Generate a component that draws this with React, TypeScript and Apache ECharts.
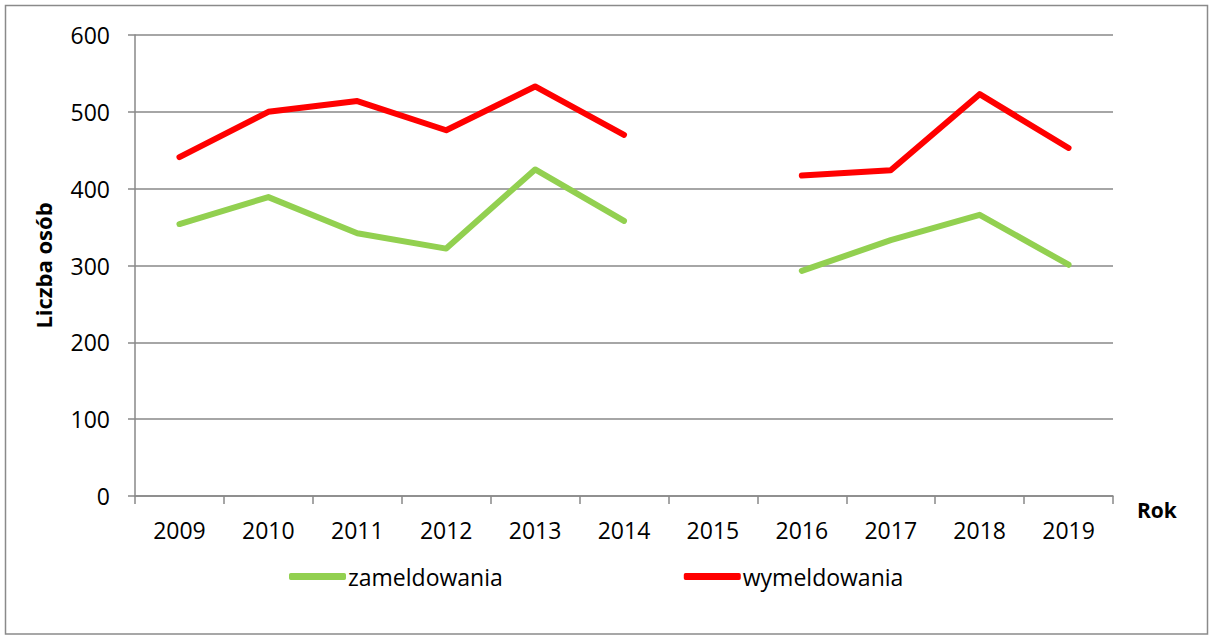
import React, { useEffect, useRef } from "react";
import * as echarts from "echarts";

const years = ["2009", "2010", "2011", "2012", "2013", "2014", "2015", "2016", "2017", "2018", "2019"];
const zameldowania: (number | null)[] = [354, 389, 342, 322, 425, 358, null, 293, 333, 366, 301];
const wymeldowania: (number | null)[] = [441, 500, 514, 476, 533, 470, null, 417, 424, 523, 453];
const yTicks = [0, 100, 200, 300, 400, 500, 600];

const FONT = "'Open Sans', Lato, sans-serif";
const GRAY = "#888888";

export default function App() {
  const ref = useRef<HTMLDivElement>(null);
  useEffect(() => {
    const chart = echarts.init(ref.current!, null, { renderer: "svg" });
    chart.setOption({
      animation: false,
      backgroundColor: "#ffffff",
      textStyle: { fontFamily: FONT },
      grid: { left: 135, right: 100, top: 35, bottom: 139 },
      graphic: [
        {
          type: "rect",
          shape: { x: 5.5, y: 5.5, width: 1202, height: 628.5 },
          style: { fill: "none", stroke: "#8a8a8a", lineWidth: 1.5 },
          silent: true,
        },
      ],
      legend: {
        left: 284,
        top: 560,
        itemWidth: 57,
        itemHeight: 7,
        itemGap: 181,
        icon: "roundRect",
        textStyle: { fontFamily: FONT, fontSize: 23, color: "#000", padding: [0, 0, 0, -3] },
        data: [
          { name: "zameldowania", itemStyle: { color: "#92D050" } },
          { name: "wymeldowania", itemStyle: { color: "#FF0000" } },
        ],
      },
      xAxis: {
        type: "category",
        data: years,
        boundaryGap: true,
        name: "Rok",
        nameLocation: "end",
        nameGap: 24,
        nameTextStyle: {
          fontFamily: FONT,
          fontSize: 21,
          fontWeight: "bold",
          color: "#000",
          align: "left",
          verticalAlign: "top",
          padding: [3, 0, 0, 0],
        },
        axisLine: { lineStyle: { color: GRAY, width: 1.5 } },
        axisTick: { show: true, length: 8, lineStyle: { color: GRAY, width: 1.5 }, alignWithLabel: false },
        axisLabel: { fontFamily: FONT, fontSize: 23, color: "#000", margin: 22, interval: 0 },
        splitLine: { show: false },
      },
      yAxis: {
        type: "value",
        min: 0,
        max: 600,
        interval: 100,
        name: "Liczba osób",
        nameLocation: "middle",
        nameGap: 81,
        nameRotate: 90,
        nameTextStyle: { fontFamily: FONT, fontSize: 22, fontWeight: "bold", color: "#000" },
        axisLine: { show: true, lineStyle: { color: GRAY, width: 1.5 } },
        axisTick: { show: true, length: 7, lineStyle: { color: GRAY, width: 1.5 } },
        axisLabel: {
          fontFamily: FONT,
          fontSize: 23,
          color: "#000",
          margin: 25,
          formatter: (v: number) => (yTicks.includes(v) ? String(v) : ""),
        },
        splitLine: { show: true, lineStyle: { color: GRAY, width: 1.5 } },
      },
      series: [
        {
          name: "zameldowania",
          type: "line",
          data: zameldowania,
          symbol: "none",
          connectNulls: false,
          lineStyle: { color: "#92D050", width: 6, cap: "round", join: "round" },
          itemStyle: { color: "#92D050" },
        },
        {
          name: "wymeldowania",
          type: "line",
          data: wymeldowania,
          symbol: "none",
          connectNulls: false,
          lineStyle: { color: "#FF0000", width: 6, cap: "round", join: "round" },
          itemStyle: { color: "#FF0000" },
        },
      ],
    });
    return () => chart.dispose();
  }, []);
  return (
    <div
      ref={ref}
      style={{ position: "fixed", left: 0, top: 0, width: 1213, height: 635, background: "#fff" }}
    />
  );
}
